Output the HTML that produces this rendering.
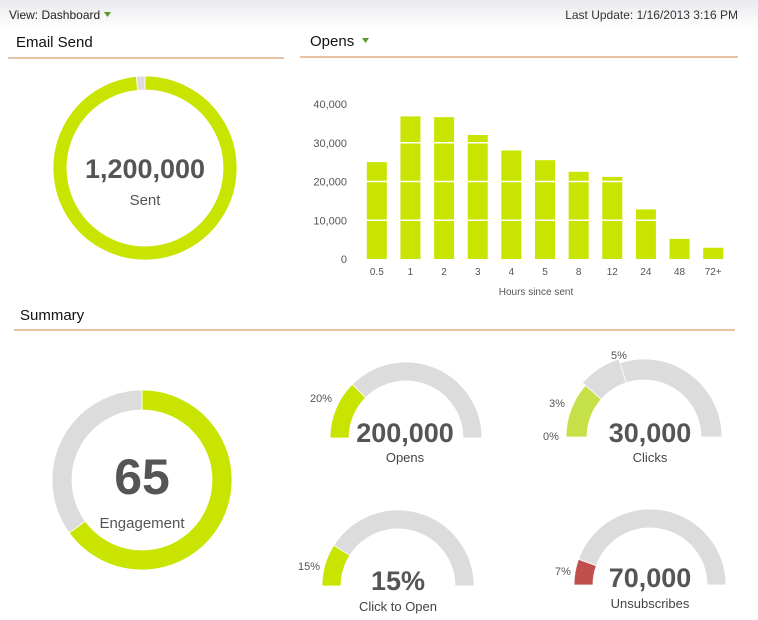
<!DOCTYPE html>
<html><head><meta charset="utf-8">
<style>
body{margin:0;width:758px;height:620px;background:#fff;overflow:hidden;font-family:"Liberation Sans",Arial,sans-serif;}
svg{display:block}
</style></head>
<body>
<svg id="s" width="758" height="620" xmlns="http://www.w3.org/2000/svg">
<defs><linearGradient id="tg" x1="0" y1="0" x2="0" y2="1"><stop offset="0" stop-color="#e9e9ee"/><stop offset="1" stop-color="#ffffff"/></linearGradient></defs>
<rect x="0" y="0" width="758" height="28" fill="url(#tg)"/>
<text x="9" y="19" font-size="12" fill="#222">View: Dashboard</text>
<path d="M104 12 l7 0 l-3.5 5 z" fill="#5a9a2a"/>
<text x="738" y="19" font-size="12" fill="#333" text-anchor="end">Last Update: 1/16/2013 3:16 PM</text>

<text x="16" y="47" font-size="15" fill="#111">Email Send</text>
<line x1="8" y1="58" x2="284" y2="58" stroke="#e8c3a3" stroke-width="2"/>
<text x="310" y="46" font-size="15" fill="#111">Opens</text>
<path d="M362 38 l7 0 l-3.5 5 z" fill="#5a9a2a"/>
<line x1="300" y1="57" x2="738" y2="57" stroke="#e8c3a3" stroke-width="2"/>
<text x="20" y="320" font-size="15" fill="#111">Summary</text>
<line x1="14" y1="330" x2="735" y2="330" stroke="#e8c3a3" stroke-width="2"/>

<g id="donuts"></g>
<g id="chart"></g>

<text x="145" y="178" font-size="27" font-weight="bold" fill="#555" text-anchor="middle">1,200,000</text>
<text x="145" y="205" font-size="15" fill="#555" text-anchor="middle">Sent</text>
<text x="142" y="494" font-size="50" font-weight="bold" fill="#555" text-anchor="middle">65</text>
<text x="142" y="528" font-size="15" fill="#555" text-anchor="middle">Engagement</text>

<text x="405" y="442" font-size="27" font-weight="bold" fill="#555" text-anchor="middle">200,000</text>
<text x="405" y="462" font-size="13" fill="#444" text-anchor="middle">Opens</text>
<text x="310" y="402" font-size="11" fill="#555">20%</text>

<text x="650" y="442" font-size="27" font-weight="bold" fill="#555" text-anchor="middle">30,000</text>
<text x="650" y="462" font-size="13" fill="#444" text-anchor="middle">Clicks</text>
<text x="543" y="440" font-size="11" fill="#555">0%</text>
<text x="549" y="407" font-size="11" fill="#555">3%</text>
<text x="611" y="359" font-size="11" fill="#555">5%</text>

<text x="398" y="590" font-size="27" font-weight="bold" fill="#555" text-anchor="middle">15%</text>
<text x="398" y="611" font-size="13" fill="#444" text-anchor="middle">Click to Open</text>
<text x="298" y="570" font-size="11" fill="#555">15%</text>

<text x="650" y="587" font-size="27" font-weight="bold" fill="#555" text-anchor="middle">70,000</text>
<text x="650" y="608" font-size="13" fill="#444" text-anchor="middle">Unsubscribes</text>
<text x="555" y="575" font-size="11" fill="#555">7%</text>
</svg>
<script>
const categories=["0.5","1","2","3","4","5","8","12","24","48","72+"];
const opens=[25000,36800,36600,32000,28000,25500,22500,21200,12800,5200,2900];
const yTicks=[0,10000,20000,30000,40000];
const yTickLabels=["0","10,000","20,000","30,000","40,000"];
const sentShare=[0.985,0.015];
const engagement=[65,35];
const gaugeOpens=0.25, gaugeClicks=[0.23,0.40], gaugeCto=0.18, gaugeUnsub=0.11;

const NS="http://www.w3.org/2000/svg";
const chart=document.getElementById('chart');
const donuts=document.getElementById('donuts');
function mk(tag,attrs,parent){const e=document.createElementNS(NS,tag);for(const k in attrs)e.setAttribute(k,attrs[k]);parent.appendChild(e);return e;}
const y0=259,yMax=40000,yTop=104;
function yS(v){return y0-(v/yMax)*(y0-yTop);}
const xL=360,xR=730,bw=(xR-xL)/categories.length;
function xS(i){return xL+bw*(i+0.5);}

yTicks.forEach((t,i)=>{
  const tx=mk('text',{x:347,y:yS(t)+4,'font-size':11,fill:'#555','text-anchor':'end'},chart);
  tx.textContent=yTickLabels[i];
  
  
});
categories.forEach((c,i)=>{
  const r=mk('rect',{x:xS(i)-10,y:yS(opens[i]),width:20,height:y0-yS(opens[i]),fill:'#c8e400'},chart);
  
  
  const tx=mk('text',{x:xS(i),y:275,'font-size':10,fill:'#555','text-anchor':'middle'},chart);
  tx.textContent=c;
  
  
});
yTicks.slice(1).forEach(t=>{
  const l=mk('line',{x1:xL,x2:xR,y1:yS(t),y2:yS(t),stroke:'#fff','stroke-width':1.5},chart);
  
  
});
const xt=mk('text',{x:536,y:295,'font-size':10,fill:'#555','text-anchor':'middle'},chart);
xt.textContent='Hours since sent';



function arcPath(cx,cy,ro,ri,a0,a1){ // angles in degrees, 0=top, clockwise
  const p=(r,a)=>{const t=(a-90)*Math.PI/180;return [cx+r*Math.cos(t),cy+r*Math.sin(t)];};
  const large=(a1-a0)>180?1:0;
  const [x1,y1]=p(ro,a0),[x2,y2]=p(ro,a1),[x3,y3]=p(ri,a1),[x4,y4]=p(ri,a0);
  return `M${x1} ${y1}A${ro} ${ro} 0 ${large} 1 ${x2} ${y2}L${x3} ${y3}A${ri} ${ri} 0 ${large} 0 ${x4} ${y4}Z`;
}
function seg(cx,cy,ro,ri,a0,a1,fill,name){
  const p=mk('path',{d:arcPath(cx,cy,ro,ri,a0,a1),fill:fill,stroke:'#fff','stroke-width':0.8},donuts);
  
  
}
// Email send donut
seg(145,168,92,78,0,sentShare[0]*360,'#c8e400','sent-arc');
seg(145,168,92,78,sentShare[0]*360,360,'#dcdcdc','unsent-arc');
// Engagement donut
const eTot=engagement[0]+engagement[1];
seg(142,480,90,70,0,engagement[0]/eTot*360,'#c8e400','engagement-arc');
seg(142,480,90,70,engagement[0]/eTot*360,360,'#dcdcdc','engagement-remaining-arc');
// gauges: fraction f of semicircle from left (-90deg) to right (90deg)
function g(f){return -90+180*f;}
function gauge(cx,cy,f,col,name){
  seg(cx,cy,76,57,-90,g(f),col,name+'-value-arc');
  seg(cx,cy,76,57,g(f),90,'#dcdcdc',name+'-track-arc');
}
gauge(406,438,gaugeOpens,'#c8e400','opens-gauge');
gauge(398,586,gaugeCto,'#c8e400','cto-gauge');
gauge(650,585,gaugeUnsub,'#c0504d','unsub-gauge');
seg(644,437,78,57,-90,g(gaugeClicks[0]),'#c6e048','clicks-gauge-value-arc');
seg(644,437,82,57,g(gaugeClicks[0]),g(gaugeClicks[1]),'#dcdcdc','clicks-gauge-range-arc');
seg(644,437,78,57,g(gaugeClicks[1]),90,'#dcdcdc','clicks-gauge-track-arc');
</script>
</body></html>
